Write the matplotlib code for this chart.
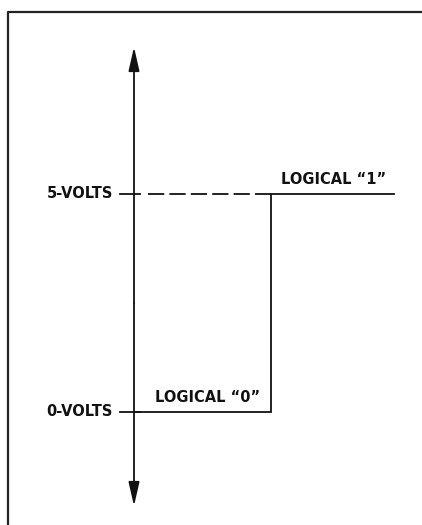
import matplotlib.pyplot as plt
from matplotlib.patches import FancyArrowPatch

# voltage levels and the step signal (time in arbitrary units, step at t=1)
levels = [0, 5]
level_labels = ["0-VOLTS", "5-VOLTS"]
state_labels = ["LOGICAL \u201c0\u201d", "LOGICAL \u201c1\u201d"]
signal_t = [0.0, 1.0, 1.0, 1.9]
signal_v = [0, 0, 5, 5]
dash_t = [0.1, 1.0]   # dashed reference at 5 V

fig = plt.figure(figsize=(4.22, 5.25), dpi=100)
ax = fig.add_axes([0, 0, 1, 1])
ax.set_xlim(-134 / 137, (422 - 134) / 137)
ax.set_ylim(-(525 - 412) / 43.6, 5 + 194 / 43.6)
ax.axis("off")

fnt = dict(family=["Liberation Sans Narrow", "DejaVu Sans"], fontweight="bold",
           fontsize=10.5, color="#111111")
ink = "#111111"

# outer frame (runs off the right and bottom edges)
ax.plot([8 / 422, 8 / 422, 1.01], [-0.01, 1 - 12 / 525, 1 - 12 / 525],
        transform=ax.transAxes, color="#222222", lw=1.6, clip_on=False)

# vertical axis with arrows both ends
top = 5 + (194 - 47) / 43.6
bot = -(506 - 412) / 43.6
for y0, y1 in [(2.5, top), (2.5, bot)]:
    ax.add_patch(FancyArrowPatch((0, y0), (0, y1),
                                 arrowstyle="-|>,head_length=1.45,head_width=0.33",
                                 mutation_scale=10, color=ink, lw=1.3, shrinkA=0, shrinkB=0))

# ticks at the levels
for v in levels:
    ax.plot([-0.1, 0.045], [v, v], color=ink, lw=1.3)

# dashed 5 V reference
ax.plot(dash_t, [5, 5], color=ink, lw=1.3, linestyle=(0, (9, 2.85)))

# the logic step
ax.plot(signal_t, signal_v, color=ink, lw=1.3, solid_joinstyle="miter")

for v, lab in zip(levels, level_labels):
    ax.text(-0.155, v, lab, ha="right", va="center", **fnt)

ax.text(0.15, 0 + 14 / 43.6, state_labels[0], ha="left", va="center", **fnt)
ax.text(1.07, 5 + 14 / 43.6, state_labels[1], ha="left", va="center", **fnt)

fig.savefig("out.png", dpi=100)
